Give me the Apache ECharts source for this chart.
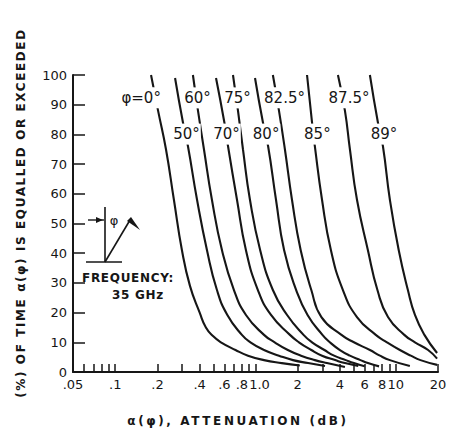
<!DOCTYPE html>
<html>
<head>
<meta charset="utf-8">
<script src="https://cdn.jsdelivr.net/npm/echarts@6/dist/echarts.min.js"></script>
<style>
  html, body { margin: 0; padding: 0; background: #fff; }
  #chart { width: 450px; height: 434px; }
  /* spaced lettering for the captions (weights pick the spacing) */
  #chart text[style*="bold"] { letter-spacing: 1.6px; }
  #chart text[style*="600"] { letter-spacing: 2.6px; }
  #chart text[style*="800"] { letter-spacing: 0.7px; }
</style>
</head>
<body>
<div id="chart"></div>
<script>
// Attenuation exceedance curves at 35 GHz for several elevation angles φ.
// Each curve: [attenuation in dB, percent of time equalled or exceeded].
const phi0   = [[0.180,100],[0.202,88],[0.230,75],[0.262,58],[0.299,41],[0.341,29],[0.400,20],[0.443,15],[0.500,12],[0.567,10],[0.720,7.4],[0.884,5.5],[1.15,4.0],[1.54,3.0],[2.07,2.2]];
const phi50  = [[0.267,99],[0.304,84],[0.330,76],[0.383,58],[0.451,41],[0.531,27.6],[0.630,19.2],[0.800,12.5],[0.920,10],[1.15,7.4],[1.47,5.5],[1.85,4.0],[2.37,3.0],[3.13,2.0]];
const phi60  = [[0.358,100],[0.389,88],[0.429,75],[0.489,58],[0.577,41],[0.702,27.6],[0.855,19.2],[1.15,12.5],[1.37,10],[1.70,7.4],[2.11,5.5],[2.65,4.0],[3.23,3.0],[4.34,1.7]];
const phi70  = [[0.523,99],[0.600,84],[0.637,76],[0.738,58],[0.855,41],[1.04,27.6],[1.29,19.2],[1.76,12.5],[2.04,10],[2.50,7.4],[2.98,5.5],[3.70,4.0],[4.34,3.0],[5.40,2.0]];
const phi75  = [[0.691,100],[0.750,88],[0.814,75],[0.913,58],[1.08,41],[1.33,27.6],[1.68,19.2],[2.20,12.5],[2.53,10],[3.10,7.4],[3.63,5.5],[4.40,4.0],[5.03,3.0],[6.00,1.9]];
const phi80  = [[0.992,99],[1.13,84],[1.23,76],[1.40,58],[1.60,41],[1.95,27.6],[2.35,19.2],[3.00,12.5],[3.39,10],[4.00,7.4],[4.71,5.5],[5.60,4.0],[6.33,3.0],[7.60,1.9]];
const phi825 = [[1.33,100],[1.47,88],[1.62,75],[1.82,58],[2.10,41],[2.50,27.6],[2.95,18.5],[4.10,12.5],[5.03,10],[6.54,7.4],[7.71,5.5],[9.08,4.0],[12.6,2.0]];
const phi85  = [[2.33,100],[2.53,84],[2.65,76],[2.98,58],[3.45,41],[4.20,27.6],[5.29,18.5],[7.20,12.5],[8.65,10],[10.7,7.4],[12.8,5.5],[15.0,4.0],[19.7,2.4]];
const phi875 = [[3.87,100],[4.34,88],[4.71,75],[5.29,58],[6.33,41],[7.40,27.6],[8.80,18.5],[11.5,12.5],[13.7,10],[17.0,7.4],[19.7,4.5]];
const phi89  = [[6.54,100],[7.46,84],[8.10,76],[9.08,58],[10.5,41],[12.2,27.6],[13.7,19.2],[16.0,12.5],[19.7,6.4]];

const curves = [phi0, phi50, phi60, phi70, phi75, phi80, phi825, phi85, phi875, phi89];

// Curve labels, placed on their curves (dB, percent).
const labelText = ['φ=0°', '60°', '75°', '82.5°', '87.5°', '50°', '70°', '80°', '85°', '89°'];
const labelAtt  = [0.153, 0.386, 0.744, 1.61, 4.64, 0.322, 0.621, 1.19, 2.76, 8.24];
const labelPct  = [92.3, 92.3, 92.3, 92.3, 92.3, 80.1, 80.1, 80.1, 80.1, 80.1];

// Logarithmic attenuation axis: labelled values and minor tick marks.
const xTickValues = [0.05, 0.1, 0.2, 0.4, 0.6, 0.8, 1, 2, 4, 6, 8, 10, 20];
const xTickLabels = ['.05', '.1', '.2', '.4', '.6', '.8', '1.0', '2', '4', '6', '8', '10', '20'];
const xMinorTicks = [0.05, 0.06, 0.07, 0.08, 0.09, 0.1, 0.2, 0.3, 0.4, 0.5, 0.6, 0.7, 0.8, 0.9,
                     1, 2, 3, 4, 5, 6, 7, 8, 9, 10, 20];

const INK = '#161616';
const FONT = '"DejaVu Sans", sans-serif';
const lg = Math.log10;

const chart = echarts.init(document.getElementById('chart'), null, { renderer: 'svg' });

const lineSeries = curves.map(c => ({
  type: 'line',
  data: c.map(([a, p]) => [lg(a), p]),
  smooth: 0.5,
  showSymbol: false,
  symbol: 'none',
  lineStyle: { color: INK, width: 2.1 },
  silent: true,
  z: 2
}));

const labelSeries = {
  type: 'scatter',
  data: labelText.map((t, i) => ({ name: t, value: [lg(labelAtt[i]), labelPct[i]] })),
  symbolSize: 1,
  itemStyle: { color: 'transparent', opacity: 1 },
  label: {
    show: true,
    position: 'inside',
    formatter: '{b}',
    color: INK,
    opacity: 1,
    fontFamily: FONT,
    fontSize: 15,
    backgroundColor: '#fff',
    padding: [3, 1, 3, 1]
  },
  emphasis: { disabled: true },
  silent: true,
  z: 5
};

chart.setOption({
  animation: false,
  backgroundColor: '#fff',
  grid: { left: 73, right: 12, top: 75, bottom: 62 },
  xAxis: {
    type: 'value',
    min: lg(0.05),
    max: lg(20),
    axisLine: { show: true, onZero: false, lineStyle: { color: INK, width: 2 } },
    axisTick: {
      show: true, inside: true, length: 8,
      customValues: xMinorTicks.map(lg),
      lineStyle: { color: INK, width: 1.5 }
    },
    axisLabel: {
      customValues: xTickValues.map(lg),
      formatter: v => {
        const i = xTickValues.findIndex(t => Math.abs(lg(t) - v) < 1e-6);
        if (i < 0) return '';
        // the "1.0" label sits a little to the right of its tick
        return xTickLabels[i] === '1.0' ? '{r|1.0}' : xTickLabels[i];
      },
      rich: { r: { padding: [0, 0, 0, 8], fontSize: 13, fontFamily: FONT, color: INK } },
      color: INK, fontFamily: FONT, fontSize: 13, margin: 6, hideOverlap: false
    },
    splitLine: { show: false }
  },
  yAxis: {
    type: 'value',
    min: 0, max: 100, interval: 10,
    axisLine: { show: true, onZero: false, lineStyle: { color: INK, width: 2 } },
    axisTick: { show: true, inside: true, length: 12, lineStyle: { color: INK, width: 1.5 } },
    axisLabel: { color: INK, fontFamily: FONT, fontSize: 13, margin: 6 },
    splitLine: { show: false }
  },
  series: [...lineSeries, labelSeries],
  graphic: [
    {
      type: 'text', x: 21, y: 213, rotation: Math.PI / 2,
      style: {
        text: '(%) OF TIME α(φ) IS EQUALLED OR EXCEEDED',
        fill: INK, font: 'bold 12px ' + FONT, align: 'center', verticalAlign: 'middle'
      }
    },
    {
      type: 'text', x: 238, y: 421,
      style: {
        text: 'α(φ), ATTENUATION (dB)',
        fill: INK, font: '600 12px ' + FONT, align: 'center', verticalAlign: 'middle'
      }
    },
    // Geometry sketch: zenith reference, ground line, slant path with antenna beam
    {
      type: 'group',
      children: [
        { type: 'line', shape: { x1: 105, y1: 207, x2: 105, y2: 262 }, style: { stroke: INK, lineWidth: 1.6 } },
        { type: 'line', shape: { x1: 86, y1: 262, x2: 122, y2: 262 }, style: { stroke: INK, lineWidth: 1.6 } },
        { type: 'line', shape: { x1: 105, y1: 262, x2: 130, y2: 220 }, style: { stroke: INK, lineWidth: 1.6 } },
        { type: 'polygon', shape: { points: [[127, 221], [131, 217], [140, 230]] }, style: { fill: INK } },
        { type: 'line', shape: { x1: 88, y1: 220, x2: 104, y2: 220 }, style: { stroke: INK, lineWidth: 1.4 } },
        { type: 'polygon', shape: { points: [[96, 217], [103, 220], [96, 223]] }, style: { fill: INK } },
        { type: 'text', x: 114, y: 220, style: { text: 'φ', fill: INK, font: '13px ' + FONT, align: 'center', verticalAlign: 'middle' } }
      ]
    },
    {
      type: 'text', x: 82, y: 278,
      style: { text: 'FREQUENCY:', fill: INK, font: '800 12px ' + FONT, align: 'left', verticalAlign: 'middle' }
    },
    {
      type: 'text', x: 112, y: 295,
      style: { text: '35 GHz', fill: INK, font: '800 12px ' + FONT, align: 'left', verticalAlign: 'middle' }
    }
  ]
});
</script>
</body>
</html>
